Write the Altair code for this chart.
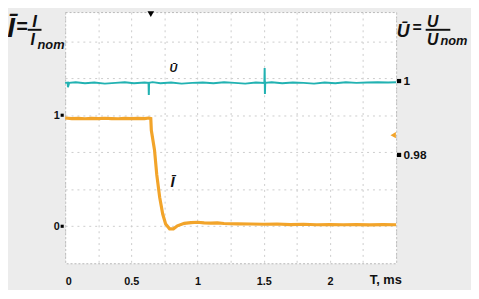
import altair as alt
import pandas as pd

# ---- data ----
current_t = [0.00, 0.05, 0.10, 0.15, 0.20, 0.25, 0.30, 0.35, 0.40, 0.45, 0.50, 0.55, 0.60,
             0.63, 0.647, 0.651, 0.675, 0.692, 0.714, 0.737, 0.759, 0.789, 0.818, 0.848,
             0.90, 0.95, 1.00, 1.05, 1.10, 1.15, 1.20, 1.30, 1.40, 1.50, 1.60, 1.70, 1.80,
             1.90, 2.00, 2.10, 2.20, 2.30, 2.40, 2.50]
current_v = [0.975, 0.970, 0.972, 0.968, 0.971, 0.969, 0.973, 0.970, 0.968, 0.971, 0.970, 0.972, 0.970,
             0.975, 0.970, 0.864, 0.687, 0.465, 0.261, 0.110, 0.021, -0.023, -0.023, 0.004,
             0.026, 0.033, 0.036, 0.030, 0.028, 0.030, 0.025, 0.022, 0.020, 0.018, 0.020, 0.015, 0.018,
             0.014, 0.016, 0.014, 0.015, 0.013, 0.015, 0.014]

voltage_t = [0.00, 0.02, 0.021, 0.03, 0.08, 0.15, 0.22, 0.30, 0.38, 0.45, 0.52, 0.60, 0.630, 0.632,
             0.634, 0.66, 0.72, 0.80, 0.88, 0.96, 1.04, 1.12, 1.20, 1.28, 1.36, 1.44, 1.505, 1.507,
             1.509, 1.511, 1.56, 1.64, 1.72, 1.80, 1.88, 1.96, 2.04, 2.12, 2.20, 2.28, 2.36, 2.44, 2.50]
voltage_v = [0.9995, 0.9996, 0.9983, 0.9995, 0.9997, 0.9994, 0.9996, 0.9993, 0.9995, 0.9997, 0.9994,
             0.9996, 0.9995, 0.9962, 0.9995, 0.9997, 0.9994, 0.9996, 0.9993, 0.9995, 0.9996, 0.9994,
             0.9997, 0.9995, 0.9993, 0.9996, 0.9995, 1.0035, 0.9965, 0.9995, 0.9997, 0.9994, 0.9996,
             0.9995, 0.9993, 0.9996, 0.9994, 0.9997, 0.9995, 0.9996, 0.9997, 0.9996, 0.9997]

x_grid = [0, 0.25, 0.5, 0.75, 1.0, 1.25, 1.5, 1.75, 2.0, 2.25, 2.5]
current_ticks = [0, 1]
current_grid = [0, 1 / 3, 2 / 3, 1, 4 / 3, 5 / 3]
voltage_ticks = [0.98, 1]
trigger_t = [0.647]

ORANGE = "#f2a42a"
TEAL = "#22b2b2"
FONT = "Liberation Sans"

cur_df = pd.DataFrame({"t": current_t, "I": current_v})
vol_df = pd.DataFrame({"t": voltage_t, "U": voltage_v})

x_axis = alt.Axis(values=x_grid, grid=True, gridDash=[2, 4], gridColor="#cccccc",
                  ticks=False, domain=False, format=".2~f",
                  labelExpr="((datum.value * 2) % 1 == 0 && datum.value <= 2) ? datum.label : ''",
                  labelFont=FONT, labelFontWeight="bold", labelFontSize=11, labelColor="#111",
                  labelPadding=13, title="T, ms", titleX=325, titleY=11, titleBaseline="top",
                  titleAlign="center", titleFont=FONT, titleFontSize=13, titleFontWeight="bold",
                  titleColor="#111")
x_scale = alt.Scale(domain=[0, 2.5], nice=False, zero=False)

cur_scale = alt.Scale(domain=[-1 / 3, 1.929], nice=False, zero=False)
cur_axis = alt.Axis(values=current_grid, grid=True, gridDash=[2, 4], gridColor="#cccccc",
                    ticks=False, domain=False,
                    labelExpr="(abs(datum.value) < 0.01 || abs(datum.value - 1) < 0.01) ? format(datum.value, 'd') : ''",
                    labelFont=FONT, labelFontWeight="bold", labelFontSize=11, labelColor="#111",
                    labelPadding=6, title=None)

vol_scale = alt.Scale(domain=[0.95067, 1.01867], nice=False, zero=False)
vol_axis = alt.Axis(orient="right", values=voltage_ticks, grid=False, ticks=False, domain=False,
                    format=".2~f", labelFont=FONT, labelFontWeight="bold", labelFontSize=12,
                    labelColor="#111", labelPadding=7, title=None)

x_enc = alt.X("t:Q", scale=x_scale, axis=x_axis)

cur_line = alt.Chart(cur_df).mark_line(color=ORANGE, strokeWidth=3.2).encode(
    x=x_enc, y=alt.Y("I:Q", scale=cur_scale, axis=cur_axis))
cur_marks = alt.Chart(pd.DataFrame({"I": current_ticks})).mark_square(
    color="black", size=10, opacity=1).encode(
    x=alt.value(-3), y=alt.Y("I:Q", scale=cur_scale, axis=cur_axis))
cur_layer = alt.layer(cur_line, cur_marks)

vol_line = alt.Chart(vol_df).mark_line(color=TEAL, strokeWidth=2).encode(
    x=x_enc, y=alt.Y("U:Q", scale=vol_scale, axis=vol_axis))
vol_marks = alt.Chart(pd.DataFrame({"U": voltage_ticks})).mark_square(
    color="black", size=18, opacity=1).encode(
    x=alt.value(339), y=alt.Y("U:Q", scale=vol_scale, axis=vol_axis))
vol_layer = alt.layer(vol_line, vol_marks)


def txt(s, x, y, size, align="center", baseline="alphabetic", italic=True):
    return alt.Chart(pd.DataFrame({"s": [s]})).mark_text(
        font=FONT, fontSize=size, fontWeight="bold", fontStyle="italic" if italic else "normal",
        align=align, baseline=baseline, color="#111").encode(
        text="s:N", x=alt.value(x), y=alt.value(y))


def bar(x1, x2, y):
    return alt.Chart(pd.DataFrame({"a": [0]})).mark_rule(color="#111", strokeWidth=2).encode(
        x=alt.value(x1), x2=alt.value(x2), y=alt.value(y))


# plot origin is at page (66, 10)
annotations = [
    # left title  I = I / I_nom
    txt("Ī", -55, 25, 28),
    txt("=", -44, 21, 20),
    txt("I", -31, 15, 17),
    bar(-38, -24, 18),
    txt("I", -33, 33, 16),
    txt("nom", -28, 37, 13, align="left"),
    # right title  U = U / U_nom
    txt("Ū", 343, 25, 18),
    txt("=", 357, 21, 16),
    txt("U", 373, 15, 16),
    bar(366, 391, 18),
    txt("U", 373, 33, 16),
    txt("nom", 381, 33, 13, align="left"),
    # trace labels
    txt("Ū", 110, 61, 11),
    txt("Ī", 109, 178, 15),
]

trigger = alt.Chart(pd.DataFrame({"t": trigger_t})).mark_point(
    shape="triangle-down", filled=True, color="black", size=45, opacity=1).encode(
    x=x_enc, y=alt.value(2))
ch2_marker = alt.Chart(pd.DataFrame({"a": [0]})).mark_point(
    shape="triangle-left", filled=True, color=ORANGE, size=40, opacity=1).encode(
    x=alt.value(333), y=alt.value(125))

chart = alt.layer(cur_layer, vol_layer, trigger, ch2_marker, *annotations).resolve_scale(
    y="independent"
).properties(
    width=336, height=255,
    padding={"left": 58, "top": 2, "right": 76, "bottom": 25},
    autosize=alt.AutoSizeParams(type="none"),
    background="#ececec",
).configure_view(
    fill="white", stroke="#b8b8b8", strokeDash=[2, 2], strokeWidth=1
)

chart.save("out.html", embed_options={"renderer": "svg", "actions": False})
